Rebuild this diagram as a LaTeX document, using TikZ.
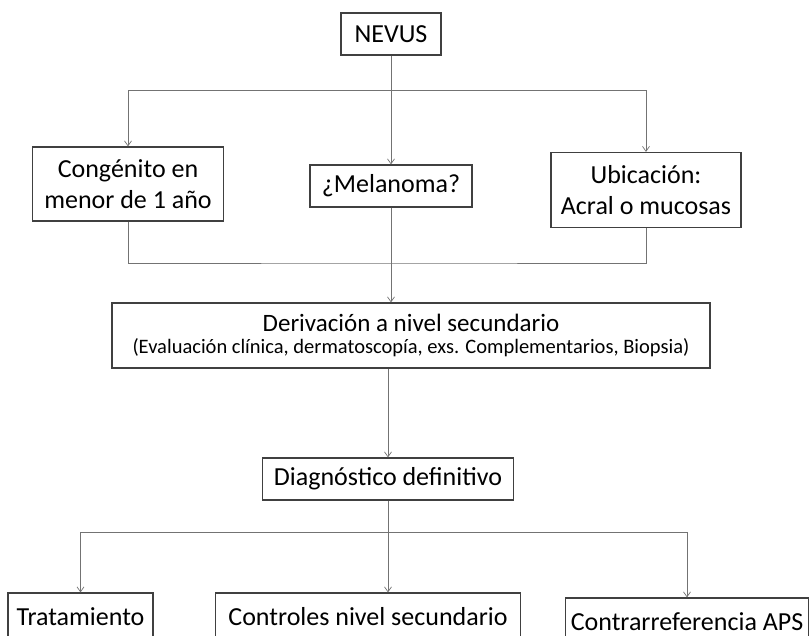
\documentclass[tikz,border=0pt]{standalone}
\usepackage{fontspec}
\setmainfont{Carlito}
\usetikzlibrary{arrows.meta,positioning}

\begin{document}
\begin{tikzpicture}[x=1pt,y=-1pt,
    caja/.style={draw=black!75, line width=1.1pt, fill=white, align=center,
      inner sep=0pt, font=\fontsize{26}{31.5}\selectfont},
    linea/.style={draw=black!55, line width=0.7pt},
    flecha/.style={linea, -{Straight Barb[length=5pt,width=7pt]}}]
  \useasboundingbox (0,0) rectangle (811,636);
  \clip (0,0) rectangle (811,636);
  % fila superior
  \node[caja, minimum width=100pt, minimum height=42pt] (nevus) at (391,34) {NEVUS};
  \node[caja, minimum width=191pt, minimum height=74pt] (cong) at (128,184) {Congénito en\\menor de 1 año};
  \node[caja, minimum width=162pt, minimum height=42pt] (mela) at (391,186) {¿Melanoma?};
  \node[caja, minimum width=190pt, minimum height=75pt] (ubic) at (646,190) {Ubicación:\\Acral o mucosas};
  % derivacion y diagnostico
  \node[caja, minimum width=598pt, minimum height=65pt, font=\fontsize{25}{22}\selectfont] (deriv) at (411,335.5)
    {Derivación a nivel secundario\\
     {\fontsize{20.5}{22}\selectfont (Evaluación clínica, dermatoscopía, exs. Complementarios, Biopsia)}};
  \node[caja, minimum width=251pt, minimum height=42pt] (diag) at (388,479) {Diagnóstico definitivo};
  % fila inferior
  \node[caja, minimum width=145pt, minimum height=48pt] (trat) at (80.5,617) {Tratamiento};
  \node[caja, minimum width=305pt, minimum height=48pt] (contr) at (368,617) {Controles nivel secundario};
  \node[caja, minimum width=243pt, minimum height=48pt] (contra) at (687,622) {Contrarreferencia APS};
  % conectores
  \coordinate (split1) at (391,90);
  \coordinate (merge) at (391,263);
  \coordinate (split2) at (388,532);
  \draw[flecha] (nevus.south) -- (mela.north);
  \draw[flecha] (split1) -| (cong.north);
  \draw[flecha] (split1) -| (ubic.north);
  \draw[linea] (cong.south) |- (merge) -| (ubic.south);
  \draw[flecha] (mela.south) -- (deriv.north -| mela.south);
  \draw[flecha] (deriv.south -| diag.north) -- (diag.north);
  \draw[flecha] (diag.south) -- (contr.north -| diag.south);
  \draw[flecha] (split2) -| (trat.north);
  \draw[flecha] (split2) -| (contra.north);
\end{tikzpicture}
\end{document}
